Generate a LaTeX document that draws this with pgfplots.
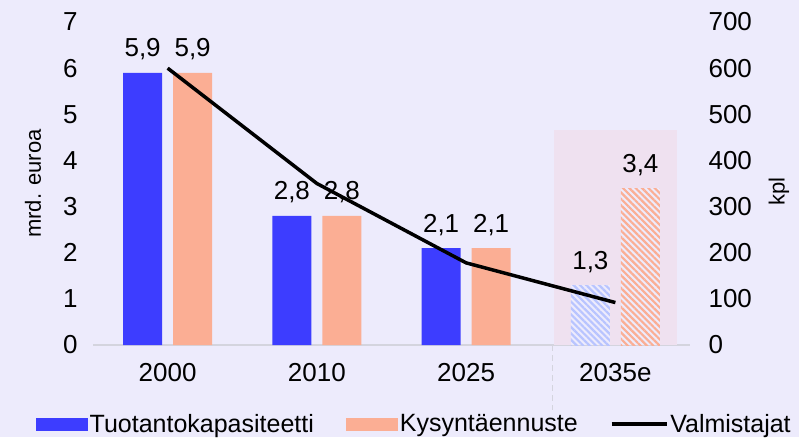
\documentclass[border=0pt]{standalone}
\usepackage{pgfplots}
\pgfplotsset{compat=1.18}
\usepackage{fontspec}
\setmainfont{Liberation Sans}
\usetikzlibrary{patterns.meta}
\definecolor{bg}{RGB}{237,235,252}
\definecolor{cblue}{RGB}{61,61,255}
\definecolor{csal}{RGB}{251,174,148}
\definecolor{shade}{RGB}{239,225,240}
\definecolor{hblue}{RGB}{184,196,255}
\definecolor{axgray}{RGB}{212,212,222}
\begin{document}
\begin{tikzpicture}
\fill[bg] (0,0) rectangle (799pt,437pt);
\useasboundingbox (0,0) rectangle (799pt,437pt);
\begin{axis}[
  at={(93pt,92pt)}, anchor=south west,
  scale only axis, width=597pt, height=323pt,
  xmin=-0.5, xmax=3.5, ymin=0, ymax=7,
  xtick={0,1,2,3}, xticklabels={2000,2010,2025,2035e},
  ytick={0,1,...,7},
  major tick length=0pt,
  axis x line*=bottom, axis y line*=left,
  x axis line style={-, draw=axgray, line width=1.5pt},
  y axis line style={draw=none},
  clip=false,
  /pgf/number format/assume math mode=true,
  /pgf/number format/use comma,
  tick label style={font=\fontsize{26}{30}\selectfont, black},
  xticklabel style={yshift=-15pt},
  yticklabel style={xshift=-12pt},
  ylabel={mrd. euroa},
  ylabel style={font=\fontsize{22}{26}\selectfont, yshift=15pt},
  legend columns=3,
  legend style={at={(0.538,-0.245)}, anchor=center, draw=none, fill=none,
    font=\fontsize{25}{30}\selectfont,
    /tikz/every even column/.append style={column sep=30pt}},
  nlab/.style={nodes near coords, nodes near coords style={font=\fontsize{26}{30}\selectfont, anchor=base, inner sep=0pt, yshift=16pt, xshift=#1, black}},
]
% shaded forecast region
\addplot[fill=shade, draw=none, forget plot] coordinates {(2.59,4.66) (3.41,4.66)} \closedcycle;
% dashed separator
\addplot[axgray, line width=1.2pt, dash pattern=on 6pt off 4pt, forget plot] coordinates {(2.58,0) (2.58,-1.4)};
\addplot[ybar, bar width=39pt, bar shift=-25pt, fill=cblue, draw=none, nlab=-25pt,
  legend image code/.code={\fill[cblue] (0pt,-6.5pt) rectangle (52pt,6.5pt);}]
  coordinates {(0,5.9) (1,2.8) (2,2.1)};
\addlegendentry{Tuotantokapasiteetti}
\addplot[ybar, bar width=39pt, bar shift=25pt, fill=csal, draw=none, nlab=25pt,
  legend image code/.code={\fill[csal] (0pt,-6.5pt) rectangle (52pt,6.5pt);}]
  coordinates {(0,5.9) (1,2.8) (2,2.1)};
\addlegendentry{Kysyntäennuste}
\addplot[ybar, bar width=39pt, bar shift=-25pt, fill=bg, draw=none, nlab=-25pt, forget plot,
  postaction={pattern={Lines[angle=-45,distance=4.5pt,line width=2.2pt]}, pattern color=hblue}]
  coordinates {(3,1.3)};
\addplot[ybar, bar width=39pt, bar shift=25pt, fill=bg, draw=none, nlab=25pt, forget plot,
  postaction={pattern={Lines[angle=-45,distance=4.5pt,line width=2.2pt]}, pattern color=csal}]
  coordinates {(3,3.4)};
\addlegendimage{legend image code/.code={\draw[black, line width=3.5pt] (0pt,0pt) -- (55pt,0pt);}}
\addlegendentry{Valmistajat}
\end{axis}
\begin{axis}[
  at={(93pt,92pt)}, anchor=south west,
  scale only axis, width=597pt, height=323pt,
  xmin=-0.5, xmax=3.5, ymin=0, ymax=700,
  ytick={0,100,...,700},
  major tick length=0pt,
  axis y line*=right, axis x line=none,
  y axis line style={draw=none},
  clip=false,
  /pgf/number format/assume math mode=true,
  tick label style={font=\fontsize{26}{30}\selectfont, black},
  yticklabel style={xshift=15pt},
  ylabel={kpl},
  ylabel style={font=\fontsize{22}{26}\selectfont, yshift=-10pt, xshift=-8pt},
]
\addplot[black, line width=3.5pt, mark=none] coordinates {(0,600) (1,350) (2,178) (3,92)};
\end{axis}
\end{tikzpicture}
\end{document}
